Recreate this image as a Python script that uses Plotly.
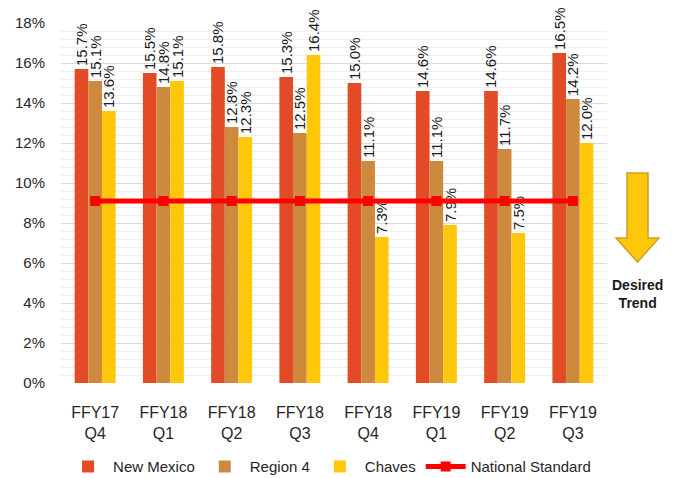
import plotly.graph_objects as go

categories = ["FFY17<br>Q4", "FFY18<br>Q1", "FFY18<br>Q2", "FFY18<br>Q3",
              "FFY18<br>Q4", "FFY19<br>Q1", "FFY19<br>Q2", "FFY19<br>Q3"]
new_mexico = [0.157, 0.155, 0.158, 0.153, 0.150, 0.146, 0.146, 0.165]
region4 = [0.151, 0.148, 0.128, 0.125, 0.111, 0.111, 0.117, 0.142]
chaves = [0.136, 0.151, 0.123, 0.164, 0.073, 0.079, 0.075, 0.120]
national_standard = [0.091] * 8

label_font = dict(family="Liberation Sans, Arial, sans-serif", size=15, color="#1a1a1a")
fig = go.Figure()
for name, vals, col in [("New Mexico", new_mexico, "#E34A26"),
                        ("Region 4", region4, "#CD8A3E"),
                        ("Chaves", chaves, "#FFC70A")]:
    fig.add_trace(go.Bar(
        x=categories, y=vals, name=name, marker=dict(color=col, line=dict(width=0)),
        texttemplate="%{y:.1%}", textposition="outside", textangle=-90,
        textfont=label_font, cliponaxis=False, constraintext="none",
    ))
fig.add_trace(go.Scatter(
    x=categories, y=national_standard, name="National Standard",
    mode="lines+markers", line=dict(color="#FF0000", width=5),
    marker=dict(symbol="square", size=10, color="#FF0000"),
))

axis_font = dict(family="Liberation Sans, Arial, sans-serif", size=15, color="#262626")
fig.update_layout(
    width=670, height=470,
    margin=dict(l=53, r=71, t=15, b=95, autoexpand=False),
    paper_bgcolor="white", plot_bgcolor="white",
    barmode="group", bargap=0.4, bargroupgap=0,
    showlegend=True,
    legend=dict(orientation="h", xref="container", yref="container",
                x=0.48, xanchor="center", y=0.024, yanchor="middle",
                font=axis_font, itemwidth=40, tracegroupgap=0),
    yaxis=dict(range=[0, 0.18], dtick=0.02, tickformat=".0%", tickfont=axis_font,
               showgrid=True, gridcolor="#D9D9D9", gridwidth=1, zeroline=False,
               ticklabelstandoff=15, automargin=False,
               minor=dict(dtick=0.004, showgrid=True, gridcolor="#EFEFEF", gridwidth=1)),
    xaxis=dict(tickfont=dict(family="Liberation Sans, Arial, sans-serif", size=16, color="#262626"),
               showline=False, ticks="", ticklabelstandoff=18, automargin=False),
    shapes=[dict(type="path", xref="paper", yref="paper",
                 path="M 1.0366 0.5833 L 1.0751 0.5833 L 1.0751 0.4028 L 1.0952 0.4028 "
                      "L 1.0559 0.3361 L 1.0165 0.4028 L 1.0366 0.4028 Z",
                 fillcolor="#FFC70A", line=dict(color="#C9A227", width=1.5))],
    annotations=[dict(text="<b>Desired<br>Trend</b>", xref="paper", yref="paper",
                      x=1.056, y=0.30, xanchor="center", yanchor="top", showarrow=False,
                      font=dict(family="Liberation Sans, Arial, sans-serif",
                                size=14, color="#1a1a1a"))],
)
fig.write_html("out.html")
